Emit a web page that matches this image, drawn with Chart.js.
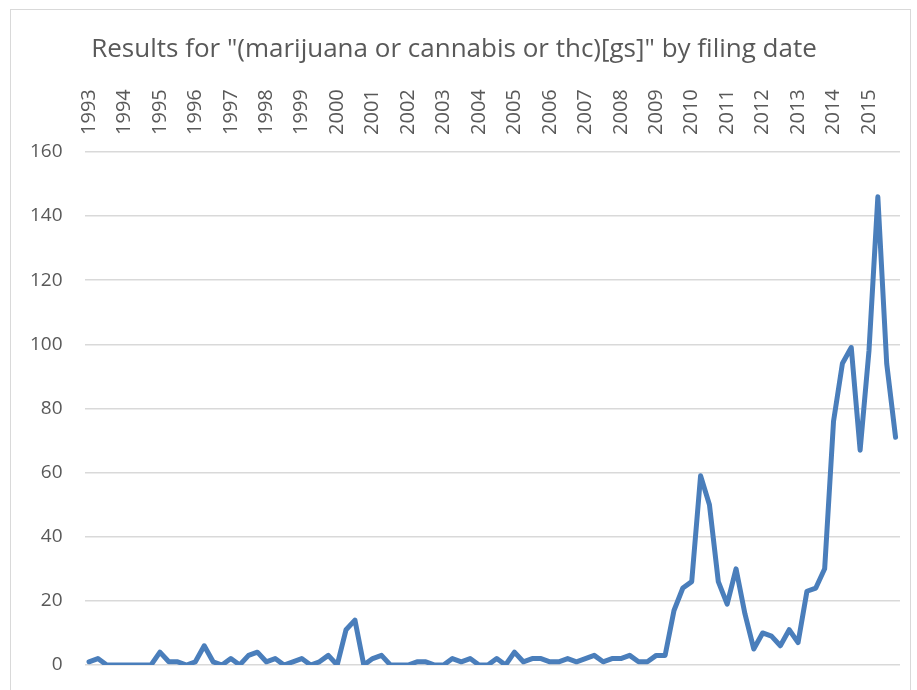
<!DOCTYPE html>
<html>
<head>
<meta charset="utf-8">
<script src="https://cdn.jsdelivr.net/npm/chart.js@4/dist/chart.umd.min.js"></script>
<style>
  html, body { margin: 0; padding: 0; background: #fff; }
  #wrap { position: relative; width: 917px; height: 690px; }
  #frame { position: absolute; left: 10px; top: 9px; width: 901px; height: 700px; border: 1px solid #d9d9d9; box-sizing: border-box; }
</style>
</head>
<body>
<div id="wrap">
  <div id="frame"></div>
  <canvas id="chart" width="917" height="690"></canvas>
</div>
<script>
// filing years, one category per quarter
var years = ['1993', '1994', '1995', '1996', '1997', '1998', '1999', '2000', '2001', '2002', '2003', '2004',
             '2005', '2006', '2007', '2008', '2009', '2010', '2011', '2012', '2013', '2014', '2015'];

// results per quarter
var counts = [
    1, 2, 0, 0,      0, 0, 0, 0,      4, 1, 1, 0,      1, 6, 1, 0,
    2, 0, 3, 4,      1, 2, 0, 1,      2, 0, 1, 3,      0, 11, 14, 0,
    2, 3, 0, 0,      0, 1, 1, 0,      0, 2, 1, 2,      0, 0, 2, 0,
    4, 1, 2, 2,      1, 1, 2, 1,      2, 3, 1, 2,      2, 3, 1, 1,
    3, 3, 17, 24,    26, 59, 50, 26,  19, 30, 16, 5,   10, 9, 6, 11,
    7, 23, 24, 30,   76, 94, 99, 67,  98, 146, 94, 71
];

var yTicks = [0, 20, 40, 60, 80, 100, 120, 140, 160];

var labels = [];
years.forEach(function (y) {
    for (var q = 1; q <= 4; q++) labels.push(y + ' Q' + q);
});

var grey = '#595959';
var font = "'Open Sans', 'Liberation Sans', sans-serif";

var ctx = document.getElementById('chart').getContext('2d');
var chart = new Chart(ctx, {
    type: 'line',
    data: {
        labels: labels,
        datasets: [{
            label: 'results',
            data: counts,
            borderColor: '#4a7ebb',
            backgroundColor: '#4a7ebb',
            borderWidth: 5,
            pointRadius: 0,
            tension: 0,
            borderJoinStyle: 'round',
            borderCapStyle: 'round'
        }]
    },
    options: {
        responsive: false,
        animation: false,
        layout: { padding: { left: 8, right: 17, top: 10, bottom: 0 } },
        plugins: {
            legend: { display: false },
            tooltip: { enabled: false },
            title: {
                display: true,
                text: 'Results for "(marijuana or cannabis or thc)[gs]" by filing date',
                color: grey,
                font: { family: font, size: 26, weight: 'normal' },
                padding: { top: 24, bottom: 7 }
            }
        },
        scales: {
            x: {
                position: 'top',
                offset: true,
                grid: { display: false, drawTicks: false },
                border: { display: false },
                ticks: {
                    autoSkip: false,
                    maxRotation: 90,
                    minRotation: 90,
                    padding: 17,
                    labelOffset: 24,
                    color: grey,
                    font: { family: font, size: 20 },
                    callback: function (v, i) {
                        return i % 4 === 0 ? years[i / 4] : '';
                    }
                }
            },
            y: {
                min: 0,
                max: 160,
                afterBuildTicks: function (axis) {
                    axis.ticks = yTicks.map(function (v) { return { value: v }; });
                },
                afterFit: function (axis) {
                    // keep the plot bottom where the original has it
                    axis.paddingBottom = 25;
                },
                grid: { color: '#d9d9d9', lineWidth: 1.5, drawTicks: false },
                border: { display: false },
                ticks: {
                    padding: 22,
                    color: grey,
                    font: { family: font, size: 19 }
                }
            }
        }
    }
});
</script>
</body>
</html>
